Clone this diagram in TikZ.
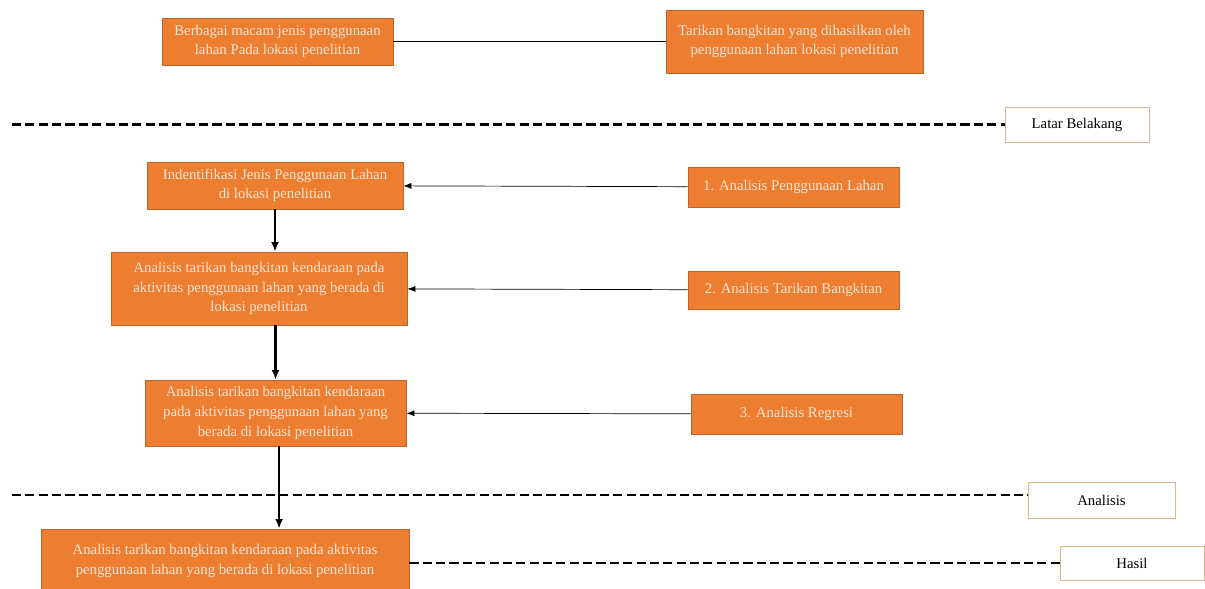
\documentclass[tikz,border=0pt]{standalone}
\usepackage{fontspec}
\setmainfont{Liberation Serif}
\definecolor{fwOrange}{HTML}{ED7D31}
\definecolor{fwEdge}{HTML}{B8652C}
\definecolor{fwText}{HTML}{FCE6D4}
\definecolor{fwTag}{HTML}{D9B68F}
\usetikzlibrary{calc,positioning,arrows.meta}

\tikzset{
  orangebox/.style={fill=fwOrange, draw=fwEdge, line width=0.5pt, text=fwText,
    align=center, inner sep=2pt, font=\fontsize{10.5}{14}\selectfont},
  tagbox/.style={fill=white, draw=fwTag, line width=0.6pt, text=black,
    inner sep=2pt, font=\fontsize{10.5}{12}\selectfont},
  flowarrow/.style={line width=1.8pt, -{Latex[length=2.4mm,width=2mm]}},
  feedarrow/.style={line width=0.5pt, -{Latex[length=2mm,width=1.5mm]}},
  sepline/.style={line width=1.6pt, dash pattern=on 6.5pt off 3pt},
}

\begin{document}
\begin{tikzpicture}[x=0.025cm, y=-0.025cm]
  \useasboundingbox (0,0) rectangle (1205,589);
  % Latar belakang
  \node[orangebox, minimum width=5.775cm, minimum height=1.175cm] (lahan) at (277.5,41.5)
    {Berbagai macam jenis penggunaan\\lahan Pada lokasi penelitian};
  \node[orangebox, minimum width=6.425cm, minimum height=1.575cm] (tarikan) at (794.5,41.5)
    {Tarikan bangkitan yang dihasilkan oleh\\penggunaan lahan lokasi penelitian};
  \draw[line width=0.5pt] (lahan) -- (tarikan);
  \node[tagbox, minimum width=3.6cm, minimum height=0.875cm] (latar) at (1077,124.5) {Latar Belakang};
  \coordinate (sepA) at (12,124.5);
  \draw[sepline] (sepA) -- (latar);
  % Analisis
  \node[orangebox, minimum width=6.4cm, minimum height=1.175cm] (ident) at (275,185.5)
    {Indentifikasi Jenis Penggunaan Lahan\\di lokasi penelitian};
  \node[orangebox, minimum width=5.275cm, minimum height=1.0cm] (anaA) at (793.5,187)
    {1. Analisis Penggunaan Lahan};
  \node[orangebox, minimum width=7.4cm, minimum height=1.825cm] (tarikA) at (259,288.5)
    {Analisis tarikan bangkitan kendaraan pada\\aktivitas penggunaan lahan yang berada di\\lokasi penelitian};
  \node[orangebox, minimum width=5.275cm, minimum height=0.95cm] (anaB) at (793.5,290)
    {2. Analisis Tarikan Bangkitan};
  \node[orangebox, minimum width=6.525cm, minimum height=1.65cm] (tarikB) at (275.5,413)
    {Analisis tarikan bangkitan kendaraan\\pada aktivitas penggunaan lahan yang\\berada di lokasi penelitian};
  \node[orangebox, minimum width=5.275cm, minimum height=1.0cm] (anaC) at (796.5,414)
    {3. Analisis Regresi};
  \draw[feedarrow] (anaA) -- (ident);
  \draw[feedarrow] (anaB) -- (tarikA);
  \draw[feedarrow] (anaC) -- (tarikB);
  \draw[flowarrow] (ident) -- (ident |- tarikA.north);
  \draw[flowarrow] (tarikB |- tarikA.south) -- (tarikB);
  \node[tagbox, minimum width=3.675cm, minimum height=0.9cm] (analisis) at (1101.5,500) {Analisis};
  \coordinate (sepB) at (12,495);
  \draw[sepline] (sepB) -- (sepB -| analisis.west);
  % Hasil
  \node[orangebox, minimum width=9.2cm, minimum height=1.6cm] (hasilbox) at (225,561)
    {Analisis tarikan bangkitan kendaraan pada aktivitas\\penggunaan lahan yang berada di lokasi penelitian};
  \draw[flowarrow] ([xshift=0.09cm]tarikB.south) -- ([xshift=0.09cm]tarikB.south |- hasilbox.north);
  \node[tagbox, minimum width=3.6cm, minimum height=0.85cm] (hasil) at (1132,563) {Hasil};
  \draw[sepline] (hasilbox.east |- hasil) -- (hasil);
\end{tikzpicture}
\end{document}
